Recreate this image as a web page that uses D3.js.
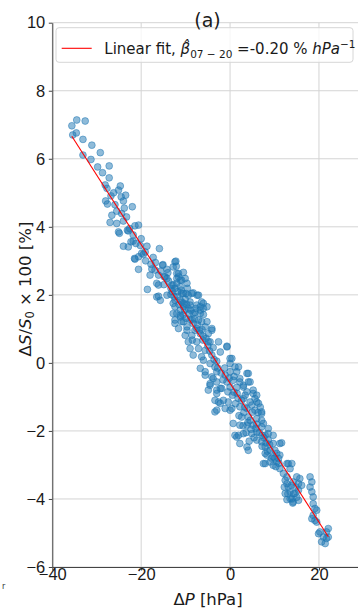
<!DOCTYPE html>
<html lang="en">
<head>
<meta charset="UTF-8">
<meta name="viewport" content="width=device-width, initial-scale=1.0">
<title>Relative count change vs pressure change</title>
<script src="https://d3js.org/d3.v7.min.js"></script>
<style>
  body { margin: 0; padding: 0; background: #fff; }
  svg { display: block; font-family: "DejaVu Sans", sans-serif; }
  .tick text { font-size: 16.5px; fill: #1a1a1a; }
  .tick line { stroke: #444; }
</style>
</head>
<body>
<svg id="chart" width="358" height="611"></svg>
<script>
  const xTicks = [-40, -20, 0, 20];
  const yTicks = [-6, -4, -2, 0, 2, 4, 6, 8, 10];
  const xDomain = [-40, 30];
  const yDomain = [-6, 10];

  // linear fit end points [dP, dS]
  const fitLine = [[-35.6, 6.66], [22.1, -5.11]];

  // scatter points: [dP (hPa), dS/S0 x 100 (%)]
  const points = [
    [-35.6,6.97],[-34.5,7.14],[-32.6,7.11],[-35.4,6.70],[-34.6,6.76],[-33.1,6.57],[-31.1,6.40],[-29.2,6.18],
    [-33.1,6.11],[-31.3,5.98],[-29.8,5.76],[-27.2,5.79],[-28.7,5.59],[-27.2,5.44],[-28.1,5.23],[-27.7,5.13],
    [-24.7,5.20],[-25.1,5.08],[-26.8,4.91],[-24.5,4.88],[-23.5,4.93],[-28.0,4.76],[-27.6,4.67],[-24.0,4.76],
    [-22.0,4.59],[-25.5,4.46],[-26.6,4.34],[-24.4,4.39],[-23.3,4.29],[-27.0,4.13],[-25.5,4.10],[-24.0,4.17],
    [-25.1,3.85],[-22.9,3.88],[-21.4,4.03],[-20.6,4.05],
    [-24.0,3.43],[-22.9,3.41],[-22.3,3.56],[-21.8,3.58],[-20.2,3.45],[-18.7,3.43],[-21.5,3.07],[-20.6,3.12],
    [-19.9,3.22],[-20.6,2.75],[-19.1,3.26],[-17.3,3.10],[-15.9,3.36],[-18.0,2.58],[-16.9,2.73],[-15.1,2.89],
    [-18.6,2.16],[-16.5,1.94],[-14.6,2.53],[-14.2,2.75],[-12.4,2.97],[-12.1,2.84],[-12.0,2.63],[-11.2,2.43],
    [-12.8,2.29],[-13.3,2.19],[-10.5,2.04],[-9.4,1.99],[-8.3,2.06],[-7.4,1.99],[-23.1,3.90],[-24.9,3.81],
    [-21.8,3.76],[-21.2,3.51],[-19.5,3.19],[-21.4,3.05],[-17.6,2.76],[-15.2,2.87],[-16.1,2.58],[-14.8,2.53],
    [-14.2,2.48],[-12.2,2.99],[-12.8,2.82],[-11.6,2.63],[-12.0,2.48],[-16.1,2.29],[-13.1,2.29],[-12.4,2.19],
    [-11.2,2.24],[-9.6,2.19],[-16.1,1.96],[-14.2,1.99],[-13.3,2.01],[-10.9,2.04],[-9.9,2.04],[-8.6,2.04],
    [-7.1,1.99],[-12.4,1.84],[-11.2,1.84],[-10.1,1.87],[-9.0,1.79],[-7.5,1.70],[-6.0,1.75],[-5.2,1.65],
    [-12.4,1.65],[-10.5,1.65],[-9.4,1.60],[-6.7,1.55],[-12.0,1.45],[-10.5,1.42],[-7.9,1.48],[-6.0,1.42],
    [-12.4,1.26],[-10.9,1.21],[-9.0,1.26],[-7.1,1.26],[-5.2,1.21],
    [-10.9,2.43],[-12.0,2.34],[-16.5,2.34],[-10.5,1.75],[-6.4,1.79],[-6.0,1.60],[-11.2,1.35],[-9.7,1.06],
    [-8.3,1.16],[-4.1,0.96],[-2.6,0.62],[-0.7,0.47],[-4.9,0.62],[-5.6,0.37],[-6.0,0.08],[-5.6,-0.36],
    [-4.5,-0.61],[-3.0,-0.80],[-3.4,-1.44],[-2.6,-1.15],[-0.4,-1.15],[0.0,-1.39],[0.7,-1.78],[1.9,-2.13],
    [2.2,-2.37],[3.8,-2.47],[0.4,0.13],[0.0,-0.02],[1.9,-0.12],[4.1,-0.31],[4.5,-0.56],[5.2,-0.90],
    [6.0,-1.15],[7.1,-1.49],[7.5,-1.78],[8.6,-2.08],[9.7,-2.13],[11.6,-2.35],
    [-15.7,1.84],[-12.8,1.75],[-9.0,1.70],[-6.7,1.65],[-12.8,1.45],[-11.2,1.40],[-8.3,1.45],[-6.7,1.45],
    [-12.4,1.16],[-10.5,1.21],[-8.6,1.26],[-6.4,1.21],[-11.6,1.01],[-9.7,0.96],[-7.5,1.01],[-5.6,1.06],
    [-4.1,1.01],[-10.1,0.81],[-8.6,0.81],[-6.7,0.86],[-4.9,0.86],[-9.4,0.62],[-7.5,0.62],[-4.5,0.62],
    [-0.7,0.49],[-9.0,0.42],[-7.1,0.42],[-2.2,0.32],[-8.3,0.23],[-6.4,0.18],[-4.1,0.23],[-4.5,-0.02],
    [0.0,0.13],[-6.7,-0.16],[-5.6,-0.26],[-3.4,-0.12],[1.1,-0.12],[-4.1,-0.41],[-3.0,-0.26],[-1.1,-0.36],
    [0.0,-0.26],[1.5,-0.26],[3.8,-0.31],[-3.0,-0.56],[-0.7,-0.56],[0.7,-0.51],[2.2,-0.46],[4.1,-0.56],
    [-1.9,-0.75],[0.0,-0.71],[1.5,-0.72],[3.0,-0.71],
    [-3.8,-0.46],[-4.5,-0.66],[-4.9,-0.80],[-3.0,-0.90],[-2.2,-0.75],[-3.4,-1.10],[-1.5,-1.10],[-3.0,-1.39],
    [-1.1,-1.34],[0.4,-1.34],[2.2,-0.56],[3.0,-0.66],[5.2,-0.80],[3.8,-0.85],[6.0,-0.95],[3.0,-1.05],
    [4.5,-1.15],[6.4,-1.19],[2.2,-1.29],[3.8,-1.34],[5.6,-1.39],[7.1,-1.44],[2.6,-1.59],[4.1,-1.59],
    [6.0,-1.64],[7.1,-1.69],[2.2,-1.83],[3.8,-1.83],[5.2,-1.83],[7.1,-1.88],[8.6,-1.93],[1.5,-2.18],
    [3.0,-2.08],[4.9,-2.08],[6.0,-2.03],[7.9,-2.13],[6.0,-2.27],[7.1,-2.32],[8.6,-2.27],[9.7,-2.37],
    [7.9,-2.47],[9.0,-2.57],[10.1,-2.57],[8.3,-2.71],[9.7,-2.76],[11.2,-2.71],[9.0,-2.91],[10.5,-2.91],
    [12.8,-2.96],
    [4.1,-2.57],[7.9,-2.66],[10.5,-2.66],[7.9,-2.96],[9.7,-3.01],[10.9,-2.81],[13.1,-2.96],[13.9,-2.96],
    [13.5,-3.11],[11.2,-3.11],[12.0,-3.25],[12.8,-3.35],[15.0,-3.35],[15.7,-3.40],[18.0,-3.35],[18.4,-3.50],
    [12.8,-3.55],[13.1,-3.65],[14.2,-3.50],[15.4,-3.55],[16.1,-3.60],[18.0,-3.65],[18.4,-3.79],[12.4,-3.84],
    [13.5,-3.79],[14.6,-3.84],[15.4,-3.74],[18.7,-3.94],[13.5,-3.99],[14.2,-4.09],[15.4,-4.04],[18.7,-4.14],
    [19.1,-4.28],[19.5,-4.33],[18.7,-4.48],[18.4,-4.58],[19.1,-4.63],[19.5,-4.68],[20.2,-4.97],[19.9,-5.02],
    [22.1,-4.87],[21.7,-4.97],[21.0,-5.12],[21.7,-5.16],[20.6,-5.26],[21.4,-5.31],[22.1,-5.12],[12.8,-4.02],
    [14.1,-4.12],
    [11.2,-2.37],[7.5,-2.96],[-2.2,-1.19],[1.1,-2.13],[3.4,-0.95],[4.9,-1.24],[6.3,-1.46],[4.5,-1.69],
    [5.8,-1.92],[7.2,-2.13],[3.1,-1.46],[1.8,-1.04],[0.9,-0.86],[-11.2,1.55],[-9.9,1.31],[-7.9,0.96],
    [-8.5,0.67],[-6.1,0.67],[-10.5,2.66],[-10.1,2.48],[-9.7,2.34],[-11.6,2.53],[-11.0,2.14],[-11.8,2.10],
    [-13.8,2.40],[-13.0,2.10],[-12.6,1.95],[-11.8,1.95],[-11.5,1.72],[-10.8,1.78],[-10.2,1.55],[-9.8,1.72],
    [-9.2,1.45],[-8.8,1.55],[-8.0,1.30],[-7.7,1.60],[-7.3,1.12],[-6.9,0.95],[-6.3,0.98],[-6.0,0.78],
    [-5.4,0.72],[-5.0,0.50],[-4.6,0.35],[-3.8,0.45],[-3.6,0.10],[-3.0,0.05],[-2.8,-0.15],[-2.0,-0.30],
    [-1.6,-0.50],[-1.2,-0.15],[-0.5,-0.85],[-0.2,-0.45],[0.5,-0.95],[0.9,-0.40],[1.2,-1.20],[1.6,-0.90],
    [2.0,-1.55],[2.6,-1.10],[2.9,-1.85],[3.3,-1.30],[3.6,-2.05],[4.0,-1.75],[4.3,-2.30],[4.7,-1.95],
    [5.0,-1.45],[5.4,-2.20],[5.6,-1.05],[6.0,-1.80],[6.6,-2.05],[6.8,-1.30],[7.2,-2.45],[7.6,-2.20],
    [8.1,-2.35],[8.4,-2.60],[8.9,-2.40],[9.3,-2.80],[10.0,-2.80],[10.3,-3.05],[11.0,-2.95],[12.4,-3.45],
    [13.0,-3.85],[13.8,-3.60],[14.3,-3.85],[14.8,-3.65],[15.0,-3.95],[12.2,-3.65],[13.9,-4.00],
    [-17.8,2.90],[-16.8,2.95],[-15.6,2.70],[-14.9,2.30],[-14.0,2.65],[-19.0,3.00],[-20.0,3.65],[-22.6,3.95],
    [-23.8,4.55],[-26.2,5.00],[-25.9,4.65]
  ];

  const svg = d3.select("#chart");

  const x = d3.scaleLinear().domain(xDomain).range([52.3, 363.4]);
  const y = d3.scaleLinear().domain(yDomain).range([567, 22.7]);

  // grid
  const grid = svg.append("g").attr("stroke", "#d4d4d4").attr("stroke-width", 1);
  grid.selectAll(".gx").data(xTicks).join("line")
    .attr("x1", d => x(d)).attr("x2", d => x(d))
    .attr("y1", y(yDomain[0])).attr("y2", y(yDomain[1]));
  grid.selectAll(".gy").data(yTicks).join("line")
    .attr("x1", x(xDomain[0])).attr("x2", x(xDomain[1]))
    .attr("y1", d => y(d)).attr("y2", d => y(d));

  // scatter
  svg.append("g")
    .selectAll("circle")
    .data(points)
    .join("circle")
    .attr("cx", d => x(d[0]))
    .attr("cy", d => y(d[1]))
    .attr("r", 3.4)
    .attr("fill", "#1f77b4")
    .attr("fill-opacity", 0.5)
    .attr("stroke", "#1f77b4")
    .attr("stroke-opacity", 0.5)
    .attr("stroke-width", 1);

  // fit
  svg.append("path")
    .datum(fitLine)
    .attr("fill", "none")
    .attr("stroke", "#ff0000")
    .attr("stroke-width", 1.1)
    .attr("d", d3.line().x(d => x(d[0])).y(d => y(d[1])));

  // axes
  const xAxis = svg.append("g")
    .attr("transform", `translate(0,${y(yDomain[0])})`)
    .call(d3.axisBottom(x).tickValues(xTicks).tickSize(3.5).tickSizeOuter(0));
  xAxis.selectAll(".tick text").attr("y", 0.8);

  const yAxis = svg.append("g")
    .attr("transform", `translate(${x(xDomain[0])},0)`)
    .call(d3.axisLeft(y).tickValues(yTicks).tickSize(3.5).tickPadding(3.5).tickSizeOuter(0));

  [xAxis, yAxis].forEach(a => a.select(".domain").attr("stroke", "#444"));

  // legend
  const lg = svg.append("g");
  lg.append("rect")
    .attr("x", 56).attr("y", 27.7).attr("width", 297).attr("height", 34.6)
    .attr("rx", 3).attr("fill", "#fff").attr("fill-opacity", 0.8)
    .attr("stroke", "#d6d6d6");
  lg.append("line")
    .attr("x1", 61.7).attr("x2", 91.7).attr("y1", 48.3).attr("y2", 48.3)
    .attr("stroke", "#ff0000").attr("stroke-width", 1.1);
  const lt = lg.append("text").attr("x", 104.3).attr("y", 54.3)
    .attr("font-size", 15).attr("fill", "#1a1a1a");
  lt.append("tspan").text("Linear fit, ");
  lt.append("tspan").attr("font-style", "italic").text("\u03B2\u0302");
  lt.append("tspan").attr("font-size", 10.5).attr("dy", 3.5).text("07 \u2212 20");
  lt.append("tspan").attr("dy", -3.5).text(" =-0.20 % ");
  lt.append("tspan").attr("font-style", "italic").text("hPa");
  lt.append("tspan").attr("font-size", 10.5).attr("dy", -6).text("\u22121");

  // title and axis labels
  svg.append("text").attr("x", 207.5).attr("y", 27)
    .attr("text-anchor", "middle").attr("font-size", 19).attr("fill", "#1a1a1a")
    .text("(a)");

  const xl = svg.append("text").attr("x", 208).attr("y", 605)
    .attr("text-anchor", "middle").attr("font-size", 16.5).attr("fill", "#1a1a1a");
  xl.append("tspan").text("\u0394");
  xl.append("tspan").attr("font-style", "italic").text("P");
  xl.append("tspan").text(" [hPa]");

  const yl = svg.append("text")
    .attr("transform", "translate(31,289) rotate(-90)")
    .attr("text-anchor", "middle").attr("font-size", 16.5).attr("fill", "#1a1a1a");
  yl.append("tspan").text("\u0394");
  yl.append("tspan").attr("font-style", "italic").text("S");
  yl.append("tspan").text("/");
  yl.append("tspan").attr("font-style", "italic").text("S");
  yl.append("tspan").attr("font-size", 11.5).attr("dy", 3).text("0");
  yl.append("tspan").attr("dy", -3).text(" \u00D7 100 [%]");

  // stray mark in the lower left corner
  svg.append("text").attr("x", 2).attr("y", 589)
    .attr("font-size", 8).attr("fill", "#333").text("r");
</script>
</body>
</html>
